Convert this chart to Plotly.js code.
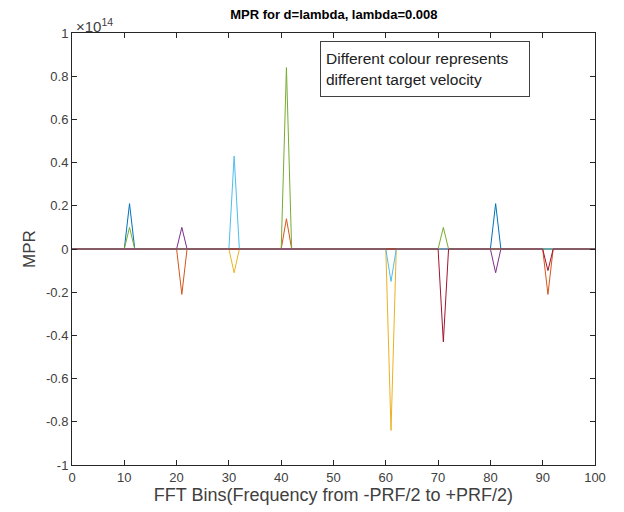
<!DOCTYPE html>
<html>
<head>
<meta charset="utf-8">
<script src="https://cdn.plot.ly/plotly-3.0.1.min.js"></script>
<style>html,body{margin:0;padding:0;background:#fff;}#chart{width:624px;height:512px;}</style>
</head>
<body>
<div id="chart"></div>
<script>
// FFT bins shown on the x axis
var binStart = 0;
var binEnd = 100;

// Series colours (MATLAB default order)
var seriesColors = ['#0072BD', '#D95319', '#EDB120', '#7E2F8E', '#77AC30', '#4DBEEE', '#A2142F'];

// Non-zero MPR values per series: bins and values
var blueBins = [11, 81];        var blueVals = [0.21e14, 0.21e14];
var orangeBins = [21, 41, 91];  var orangeVals = [-0.21e14, 0.14e14, -0.21e14];
var yellowBins = [31, 61];      var yellowVals = [-0.11e14, -0.84e14];
var purpleBins = [21, 81];      var purpleVals = [0.10e14, -0.11e14];
var greenBins = [11, 41, 71];   var greenVals = [0.10e14, 0.84e14, 0.10e14];
var cyanBins = [31, 61];        var cyanVals = [0.43e14, -0.15e14];
var redBins = [71, 91];         var redVals = [-0.43e14, -0.10e14];

var yTickVals = [-1e14, -0.8e14, -0.6e14, -0.4e14, -0.2e14, 0, 0.2e14, 0.4e14, 0.6e14, 0.8e14, 1e14];
var yTickText = ['-1', '-0.8', '-0.6', '-0.4', '-0.2', '0', '0.2', '0.4', '0.6', '0.8', '1'];
var xTickVals = [0, 10, 20, 30, 40, 50, 60, 70, 80, 90, 100];

var seriesBins = [blueBins, orangeBins, yellowBins, purpleBins, greenBins, cyanBins, redBins];
var seriesVals = [blueVals, orangeVals, yellowVals, purpleVals, greenVals, cyanVals, redVals];

var xs = [];
for (var b = binStart; b <= binEnd; b++) xs.push(b);

var traces = seriesBins.map(function (bins, i) {
  var ys = xs.map(function () { return 0; });
  bins.forEach(function (bin, k) { ys[bin - binStart] = seriesVals[i][k]; });
  return {
    x: xs, y: ys, type: 'scatter', mode: 'lines',
    line: {color: seriesColors[i], width: 1},
    showlegend: false, hoverinfo: 'skip'
  };
});

var FONT = 'Liberation Sans, Arial, sans-serif';
var axisCommon = {
  showgrid: false, zeroline: false, showline: true, linecolor: '#262626', linewidth: 1,
  mirror: 'ticks', ticks: 'inside', ticklen: 5, tickcolor: '#262626', tickwidth: 1,
  tickfont: {family: FONT, size: 13, color: '#404040'}
};

var layout = {
  width: 624, height: 512,
  margin: {l: 72, r: 29, t: 33, b: 47},
  paper_bgcolor: '#ffffff', plot_bgcolor: '#ffffff',
  title: {
    text: '<b>MPR for d=lambda, lambda=0.008</b>',
    font: {family: FONT, size: 13, color: '#000'},
    x: 0.535, xanchor: 'center', y: 0.972, yanchor: 'middle'
  },
  xaxis: Object.assign({}, axisCommon, {
    range: [0, 100], tickmode: 'array', tickvals: xTickVals,
    title: {text: 'FFT Bins(Frequency from -PRF/2 to +PRF/2)', standoff: 2,
      font: {family: FONT, size: 18, color: '#404040'}}
  }),
  yaxis: Object.assign({}, axisCommon, {
    range: [-1e14, 1e14], tickmode: 'array', tickvals: yTickVals, ticktext: yTickText,
    title: {text: 'MPR', standoff: 6,
      font: {family: FONT, size: 17, color: '#404040'}}
  }),
  annotations: [
    {
      xref: 'paper', yref: 'paper', x: 0.0, y: 1.0, xanchor: 'left', yanchor: 'bottom',
      text: '×10<sup>14</sup>', showarrow: false, yshift: -4, xshift: 2,
      font: {family: FONT, size: 15, color: '#404040'}
    },
    {
      xref: 'paper', yref: 'paper', x: 0.474, y: 0.981, xanchor: 'left', yanchor: 'top',
      text: 'Different colour represents<br>different target velocity', align: 'left',
      showarrow: false, bgcolor: '#ffffff', bordercolor: '#404040', borderwidth: 1,
      borderpad: 5, width: 198, height: 44,
      font: {family: FONT, size: 15.5, color: '#202020'}
    }
  ]
};

Plotly.newPlot('chart', traces, layout, {displayModeBar: false, staticPlot: true});
</script>
</body>
</html>
